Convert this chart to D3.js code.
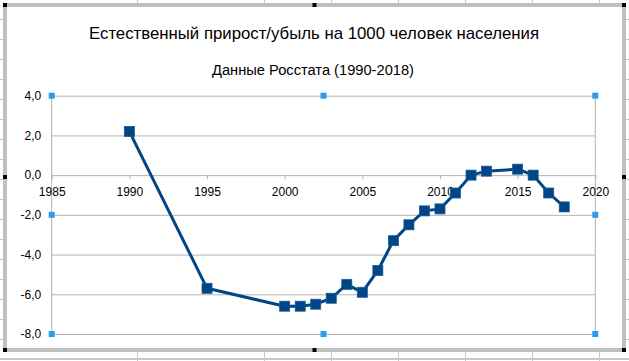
<!DOCTYPE html>
<html>
<head>
<meta charset="utf-8">
<script src="https://cdn.jsdelivr.net/npm/d3@7"></script>
<style>
  html, body { margin: 0; padding: 0; background: #ffffff; }
  svg { display: block; }
  text { font-family: "Liberation Sans", Arial, sans-serif; fill: #000; }
</style>
</head>
<body>
<svg id="chart" width="629" height="361"></svg>
<script>
// ---- data ----
const title = "Естественный прирост/убыль на 1000 человек населения";
const subtitle = "Данные Росстата (1990-2018)";
const years = [1990, 1995, 2000, 2001, 2002, 2003, 2004, 2005, 2006, 2007, 2008, 2009, 2010, 2011, 2012, 2013, 2015, 2016, 2017, 2018];
const values = [2.2, -5.7, -6.6, -6.6, -6.5, -6.2, -5.5, -5.9, -4.8, -3.3, -2.5, -1.8, -1.7, -0.9, 0.0, 0.2, 0.3, 0.0, -0.9, -1.6];
const xTicks = [1985, 1990, 1995, 2000, 2005, 2010, 2015, 2020];
const yTicks = [-8, -6, -4, -2, 0, 2, 4];
// spreadsheet background grid (decorative)
const sheetCols = [137, 264, 331, 398, 465, 532, 599];

const svg = d3.select("#chart");
const W = 629, H = 361;

// ---- spreadsheet background ----
const bg = svg.append("g");
sheetCols.forEach(cx => {
  bg.append("line").attr("x1", cx + 0.5).attr("x2", cx + 0.5).attr("y1", 0).attr("y2", H)
    .attr("stroke", "#c8c8c8").attr("stroke-width", 1);
});
for (let ry = 19.5; ry < H; ry += 20) {
  bg.append("line").attr("x1", 0).attr("x2", W).attr("y1", ry).attr("y2", ry)
    .attr("stroke", "#c8c8c8").attr("stroke-width", 1);
}
bg.append("line").attr("x1", 0).attr("x2", W).attr("y1", 358.5).attr("y2", 358.5)
  .attr("stroke", "#c8c8c8").attr("stroke-width", 1);

// ---- chart frame ----
const fx0 = 5, fy0 = 5, fx1 = 624, fy1 = 350;
svg.append("rect").attr("x", fx0).attr("y", fy0).attr("width", fx1 - fx0).attr("height", fy1 - fy0)
  .attr("fill", "#ffffff").attr("stroke", "#c0c0c0").attr("stroke-width", 4);

// ---- scales ----
const x = d3.scaleLinear().domain([1985, 2020]).range([51.7, 595.3]);
const y = d3.scaleLinear().domain([-8, 4]).range([334, 95.7]);
const fmt = v => d3.format(".1f")(v).replace(".", ",").replace("−", "-");

// ---- titles ----
const tTitle = svg.append("text").attr("x", 314).attr("y", 39.3).attr("text-anchor", "middle")
  .style("font-size", "17px").text(title);
let tl = tTitle.node().getComputedTextLength();
tTitle.style("font-size", (17 * 450 / tl).toFixed(2) + "px");

const tSub = svg.append("text").attr("x", 313).attr("y", 74.5).attr("text-anchor", "middle")
  .style("font-size", "13px").text(subtitle);
let sl = tSub.node().getComputedTextLength();
tSub.style("font-size", (13 * 202 / sl).toFixed(2) + "px");

// ---- gridlines / y axis ----
const yAxis = d3.axisLeft(y).tickValues(yTicks).tickFormat(fmt)
  .tickSizeInner(-(x(2020) - x(1985))).tickSizeOuter(0).tickPadding(10.5);
const gy = svg.append("g").attr("transform", `translate(${x(1985)},0)`).call(yAxis);
gy.select(".domain").remove();
gy.selectAll(".tick line").attr("stroke", "#b3b3b3").attr("stroke-width", 1);
gy.selectAll(".tick text").style("font-size", "12px").style("font-family", "Liberation Sans, Arial, sans-serif").attr("fill", "#000");

// vertical axis line and right border
svg.append("line").attr("x1", x(1985)).attr("x2", x(1985)).attr("y1", y(4)).attr("y2", y(-8))
  .attr("stroke", "#b3b3b3").attr("stroke-width", 1);
svg.append("line").attr("x1", x(2020)).attr("x2", x(2020)).attr("y1", y(4)).attr("y2", y(-8))
  .attr("stroke", "#b3b3b3").attr("stroke-width", 1);

// ---- x axis at y=0 ----
const xAxis = d3.axisBottom(x).tickValues(xTicks).tickFormat(d3.format("d"))
  .tickSizeInner(4).tickSizeOuter(0).tickPadding(8);
const gx = svg.append("g").attr("transform", `translate(0,${y(0)})`).call(xAxis);
gx.select(".domain").remove();
gx.selectAll(".tick line").attr("stroke", "#b3b3b3").attr("stroke-width", 1);
gx.selectAll(".tick text").style("font-size", "12px").style("font-family", "Liberation Sans, Arial, sans-serif").attr("fill", "#000");

// ---- series ----
const data = years.map((yr, i) => ({ yr, v: values[i] }));
const line = d3.line().x(d => x(d.yr)).y(d => y(d.v));
svg.append("path").datum(data).attr("d", line).attr("fill", "none")
  .attr("stroke", "#004586").attr("stroke-width", 3).attr("stroke-linejoin", "round");
const ms = 10;
svg.append("g").selectAll("rect").data(data).join("rect")
  .attr("x", d => x(d.yr) - ms / 2).attr("y", d => y(d.v) - ms / 2)
  .attr("width", ms).attr("height", ms)
  .attr("fill", "#004586").attr("stroke", "#1a5a96").attr("stroke-width", 0.8);

// ---- selection handles (plot area, blue) ----
const px0 = x(1985), px1 = x(2020), py0 = y(4), py1 = y(-8);
const pxm = (px0 + px1) / 2, pym = (py0 + py1) / 2;
const blueH = [[px0, py0], [pxm, py0], [px1, py0], [px0, pym], [px1, pym], [px0, py1], [pxm, py1], [px1, py1]];
svg.append("g").selectAll("rect").data(blueH).join("rect")
  .attr("x", d => d[0] - 3).attr("y", d => d[1] - 3).attr("width", 6).attr("height", 6)
  .attr("fill", "#2b9bea");

// ---- frame handles (black) ----
const fxm = (fx0 + fx1) / 2, fym = 177;
const blackH = [[fx0, fy0], [fxm, fy0], [fx1, fy0], [fx0, fym], [fx1, fym], [fx0, fy1], [fxm, fy1], [fx1, fy1]];
svg.append("g").selectAll("rect").data(blackH).join("rect")
  .attr("x", d => d[0] - 2).attr("y", d => d[1] - 2).attr("width", 4).attr("height", 4)
  .attr("fill", "#000000");
</script>
</body>
</html>
